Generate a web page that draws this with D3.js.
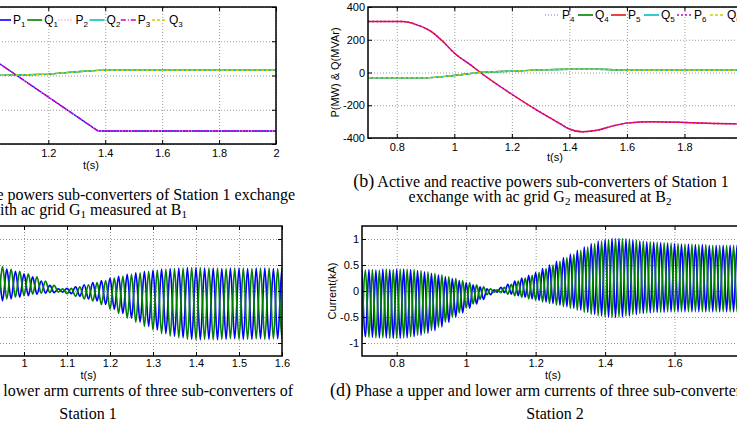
<!DOCTYPE html>
<html>
<head>
<meta charset="utf-8">
<script src="https://cdn.jsdelivr.net/npm/d3@7"></script>
<style>
body { margin: 0; background: #fff; }
svg { display: block; }
.tick text { font-family: "Liberation Sans", Arial, sans-serif; font-size: 11px; fill: #000; }
.tick line { stroke: #000; }
.grid line { stroke: #9a9a9a; stroke-dasharray: 1,2; }
.axis-title { font-family: "Liberation Sans", Arial, sans-serif; font-size: 11px; }
.legend text { font-family: "Liberation Sans", Arial, sans-serif; font-size: 12px; }
.caption { font-family: "Liberation Serif", "Times New Roman", serif; font-size: 16px; }
</style>
</head>
<body>
<div id="fig"></div>
<script>
// ---- values ----

// (a) station 1 powers (P1..P3 lie on top of each other, same for Q1..Q3)
var tPa = [0.7, 0.825, 1.375, 2.0];
var pA  = [300, 300, -324, -324];
var tQa = [0.7, 1.0, 1.1, 1.2, 1.3, 1.375, 1.4, 2.0];
var qA  = [-5, 0, 3, 8, 22, 30, 31, 31];

// (b) station 2 powers
var tPb = [0.7, 0.82, 0.87, 0.92, 0.96, 1.0, 1.055, 1.1, 1.2, 1.3, 1.37, 1.4, 1.445, 1.5, 1.545, 1.6, 1.69, 1.8, 1.9, 2.0];
var pB  = [311, 311, 291, 250, 190, 119, 48, -12, -133, -244, -315, -345, -362, -351, -329, -309, -301, -305, -311, -314];
var tQb = [0.7, 0.9, 1.0, 1.1, 1.2, 1.3, 1.4, 1.5, 1.6, 2.0];
var qB  = [-32, -32, -18, 2, 8, 16, 20, 20, 14, 14];

// (c),(d) arm currents: one max / min per 50 Hz cycle, starting at t = 0.7 s
var cycleStart = 0.7;
var period = 0.02;
var hiC = [0.90, 0.90, 0.90, 0.90, 0.90, 0.90, 0.89, 0.84, 0.78, 0.72,
           0.65, 0.58, 0.47, 0.42, 0.38, 0.33, 0.27, 0.19, 0.11, 0.04,
           0.05, 0.08, 0.12, 0.16, 0.20, 0.25, 0.28, 0.32, 0.35, 0.38,
           0.40, 0.42, 0.43, 0.44, 0.45, 0.45, 0.44, 0.44, 0.43, 0.44,
           0.44, 0.43, 0.44, 0.44, 0.43, 0.44];
var loC = [-0.40, -0.40, -0.40, -0.40, -0.40, -0.40, -0.40, -0.37, -0.34, -0.31,
           -0.28, -0.24, -0.19, -0.15, -0.12, -0.09, -0.06, -0.04, -0.03, -0.02,
           -0.05, -0.10, -0.15, -0.19, -0.26, -0.35, -0.43, -0.52, -0.60, -0.68,
           -0.75, -0.82, -0.87, -0.90, -0.93, -0.94, -0.93, -0.94, -0.93, -0.92,
           -0.93, -0.93, -0.92, -0.93, -0.92, -0.93];
var hiD = [0.40, 0.41, 0.40, 0.42, 0.41, 0.42, 0.42, 0.41, 0.39, 0.37,
           0.34, 0.31, 0.27, 0.24, 0.20, 0.16, 0.12, 0.08, 0.04, 0.02,
           0.07, 0.13, 0.19, 0.25, 0.30, 0.36, 0.43, 0.50, 0.57, 0.64,
           0.71, 0.78, 0.85, 0.91, 0.96, 0.99, 1.01, 1.01, 1.00, 0.98,
           0.96, 0.95, 0.94, 0.93, 0.92, 0.91, 0.90, 0.90, 0.89, 0.89,
           0.88, 0.88, 0.88, 0.88, 0.88, 0.88];
var loD = [-0.88, -0.89, -0.90, -0.90, -0.91, -0.91, -0.90, -0.88, -0.85, -0.81,
           -0.76, -0.69, -0.60, -0.50, -0.42, -0.33, -0.25, -0.16, -0.07, -0.02,
           -0.03, -0.06, -0.09, -0.12, -0.15, -0.18, -0.21, -0.24, -0.27, -0.30,
           -0.33, -0.37, -0.41, -0.45, -0.48, -0.50, -0.51, -0.50, -0.48, -0.45,
           -0.43, -0.42, -0.41, -0.41, -0.40, -0.40, -0.40, -0.40, -0.40, -0.40,
           -0.40, -0.40, -0.40, -0.40, -0.40, -0.40];

// tick values
var xTicksAB = [0.8, 1, 1.2, 1.4, 1.6, 1.8, 2];
var xTicksC  = [0.7, 0.8, 0.9, 1, 1.1, 1.2, 1.3, 1.4, 1.5, 1.6];
var xTicksD  = [0.8, 1, 1.2, 1.4, 1.6, 1.8];
var yTicksPQ = [-400, -200, 0, 200, 400];
var yTicksI  = [-1, -0.5, 0, 0.5, 1];

// legend entries
var legendA = [
  {name: "P", sub: "1", color: "#0000ff", dash: null},
  {name: "Q", sub: "1", color: "#008000", dash: null},
  {name: "P", sub: "2", color: "#ff8fc8", dash: "1,2"},
  {name: "Q", sub: "2", color: "#00c0c0", dash: null},
  {name: "P", sub: "3", color: "#cc00cc", dash: "5,2,1,2"},
  {name: "Q", sub: "3", color: "#cccc00", dash: "3,2"}
];
var legendB = [
  {name: "P", sub: "4", color: "#9f9fff", dash: "1,2"},
  {name: "Q", sub: "4", color: "#008000", dash: null},
  {name: "P", sub: "5", color: "#e8101c", dash: null},
  {name: "Q", sub: "5", color: "#00c0c0", dash: null},
  {name: "P", sub: "6", color: "#cc00cc", dash: "2,2"},
  {name: "Q", sub: "6", color: "#cccc00", dash: "3,2"}
];

var width = 737,
    height = 424;

var svg = d3.select("#fig").append("svg")
  .attr("width", width)
  .attr("height", height);
var defs = svg.append("defs");

var fmt = function(d) { return String(+d.toFixed(2)); };

// axes box with inward ticks on all sides, dotted grid, MATLAB style
function makeAxes(id, box, xDom, yDom, xTicks, yTicks, labelPad) {
  var x = d3.scaleLinear().domain(xDom).range([box.left, box.right]);
  var y = d3.scaleLinear().domain(yDom).range([box.bottom, box.top]);
  var w = box.right - box.left,
      h = box.bottom - box.top;
  var g = svg.append("g").attr("id", id);

  defs.append("clipPath").attr("id", id + "-clip")
    .append("rect")
    .attr("x", box.left).attr("y", box.top)
    .attr("width", w).attr("height", h);

  // grid
  g.append("g").attr("class", "grid")
    .attr("transform", "translate(0," + box.bottom + ")")
    .call(d3.axisBottom(x).tickValues(xTicks).tickSize(-h).tickFormat(""))
    .call(s => s.select(".domain").remove());
  g.append("g").attr("class", "grid")
    .attr("transform", "translate(" + box.left + ",0)")
    .call(d3.axisLeft(y).tickValues(yTicks).tickSize(-w).tickFormat(""))
    .call(s => s.select(".domain").remove());

  var plot = g.append("g").attr("clip-path", "url(#" + id + "-clip)");

  // tick marks + labels
  var axes = g.append("g");
  axes.append("g")
    .attr("transform", "translate(0," + box.bottom + ")")
    .call(d3.axisBottom(x).tickValues(xTicks).tickSize(-4).tickPadding(labelPad).tickFormat(fmt));
  axes.append("g")
    .attr("transform", "translate(0," + box.top + ")")
    .call(d3.axisTop(x).tickValues(xTicks).tickSize(-4).tickFormat(""));
  axes.append("g")
    .attr("transform", "translate(" + box.left + ",0)")
    .call(d3.axisLeft(y).tickValues(yTicks).tickSize(-4).tickPadding(3).tickFormat(fmt));
  axes.append("g")
    .attr("transform", "translate(" + box.right + ",0)")
    .call(d3.axisRight(y).tickValues(yTicks).tickSize(-4).tickFormat(""));
  axes.selectAll("path.domain").remove();
  axes.selectAll("g").attr("font-family", null).attr("font-size", null);

  g.append("rect")
    .attr("x", box.left).attr("y", box.top)
    .attr("width", w).attr("height", h)
    .attr("fill", "none")
    .attr("stroke", "#000")
    .attr("stroke-width", 1.5);

  return {x: x, y: y, g: g, plot: plot, box: box};
}

function drawSeries(ax, ts, vs, color, dash, curve) {
  var line = d3.line()
    .x(function(d, i) { return ax.x(ts[i]); })
    .y(function(d) { return ax.y(d); })
    .curve(curve || d3.curveLinear);
  ax.plot.append("path")
    .datum(vs)
    .attr("d", line)
    .attr("fill", "none")
    .attr("stroke", color)
    .attr("stroke-width", 1.4)
    .attr("stroke-dasharray", dash);
}

// upper and lower arm currents: same envelope, opposite ac part
function drawCurrents(ax, hi, lo) {
  var blue = [], green = [];
  hi.forEach(function(v, k) {
    var t = cycleStart + k * period;
    blue.push([t, hi[k]], [t + period / 2, lo[k]]);
    green.push([t, lo[k]], [t + period / 2, hi[k]]);
  });
  var line = d3.line()
    .x(function(d) { return ax.x(d[0]); })
    .y(function(d) { return ax.y(d[1]); })
    .curve(d3.curveMonotoneX);
  [[blue, "#0000ff"], [green, "#008000"]].forEach(function(s) {
    ax.plot.append("path")
      .datum(s[0])
      .attr("d", line)
      .attr("fill", "none")
      .attr("stroke", s[1])
      .attr("stroke-width", 1.7);
  });
}

function drawLegend(ax, items, x0, pitch, yc) {
  var lg = ax.g.append("g").attr("class", "legend");
  items.forEach(function(it, i) {
    var tx = x0 + i * pitch;
    lg.append("line")
      .attr("x1", tx - 17).attr("x2", tx - 2)
      .attr("y1", yc).attr("y2", yc)
      .attr("stroke", it.color)
      .attr("stroke-width", 1.6)
      .attr("stroke-dasharray", it.dash);
    var t = lg.append("text").attr("x", tx).attr("y", yc + 4);
    t.append("tspan").text(it.name);
    t.append("tspan").attr("dy", 3).attr("font-size", 8).text(it.sub);
  });
}

function axisTitleX(ax, y) {
  ax.g.append("text")
    .attr("class", "axis-title")
    .attr("text-anchor", "middle")
    .attr("x", (ax.box.left + ax.box.right) / 2)
    .attr("y", y)
    .text("t(s)");
}

function axisTitleY(ax, x, label) {
  ax.g.append("text")
    .attr("class", "axis-title")
    .attr("text-anchor", "middle")
    .attr("transform", "translate(" + x + "," + (ax.box.top + ax.box.bottom) / 2 + "), rotate(-90)")
    .text(label);
}

// caption line, parts: [text, "big" | "sub" | null]
function caption(x, y, anchor, parts) {
  var t = svg.append("text")
    .attr("class", "caption")
    .attr("x", x).attr("y", y)
    .attr("text-anchor", anchor);
  var down = false;
  parts.forEach(function(p) {
    var s = t.append("tspan").text(p[0]);
    if (p[1] == "big") s.attr("font-size", 18);
    if (p[1] == "sub") { s.attr("font-size", 11).attr("dy", 3); down = true; }
    else if (down) { s.attr("dy", -3); down = false; }
  });
}

// ---- panel (a) ----
var axA = makeAxes("panelA", {left: -94, right: 276, top: 7, bottom: 144}, [0.7, 2], [-400, 400], xTicksAB, yTicksPQ, 5);
drawSeries(axA, tPa, pA, legendA[0].color, null);
drawSeries(axA, tQa, qA, legendA[1].color, null);
drawSeries(axA, tPa, pA, legendA[2].color, legendA[2].dash);
drawSeries(axA, tQa, qA, legendA[3].color, null);
drawSeries(axA, tPa, pA, legendA[4].color, legendA[4].dash);
drawSeries(axA, tQa, qA, legendA[5].color, legendA[5].dash);
drawLegend(axA, legendA, 13, 31.2, 20);
axisTitleX(axA, 169);
axisTitleY(axA, -127, "P(MW) & Q(MVAr)");

// ---- panel (b) ----
var axB = makeAxes("panelB", {left: 368, right: 742, top: 7, bottom: 138}, [0.7, 2], [-400, 400], xTicksAB, yTicksPQ, 5);
drawSeries(axB, tPb, pB, legendB[0].color, legendB[0].dash, d3.curveMonotoneX);
drawSeries(axB, tQb, qB, legendB[1].color, null, d3.curveMonotoneX);
drawSeries(axB, tPb, pB, legendB[2].color, null, d3.curveMonotoneX);
drawSeries(axB, tQb, qB, legendB[3].color, null, d3.curveMonotoneX);
drawSeries(axB, tPb, pB, legendB[4].color, legendB[4].dash, d3.curveMonotoneX);
drawSeries(axB, tQb, qB, legendB[5].color, legendB[5].dash, d3.curveMonotoneX);
drawLegend(axB, legendB, 562, 33, 15);
axisTitleX(axB, 161);
axisTitleY(axB, 339, "P(MW) & Q(MVAr)");

// ---- panel (c) ----
var axC = makeAxes("panelC", {left: -105, right: 282, top: 226, bottom: 356}, [0.7, 1.6], [-1.25, 1.25], xTicksC, yTicksI, 3);
drawCurrents(axC, hiC, loC);
axisTitleX(axC, 379);
axisTitleY(axC, -135, "Current(kA)");

// ---- panel (d) ----
var axD = makeAxes("panelD", {left: 362, right: 744, top: 226, bottom: 356}, [0.7, 1.8], [-1.25, 1.25], xTicksD, yTicksI, 3);
drawCurrents(axD, hiD, loD);
axisTitleX(axD, 379);
axisTitleY(axD, 336, "Current(kA)");

// ---- captions ----
caption(295, 200, "end", [["(a)", "big"], [" Active and reactive powers sub-converters of Station 1 exchange", null]]);
caption(187, 215, "end", [["with ac grid G", null], ["1", "sub"], [" measured at B", null], ["1", "sub"]]);
caption(541, 187, "middle", [["(b)", "big"], [" Active and reactive powers sub-converters of Station 1", null]]);
caption(540, 202, "middle", [["exchange with ac grid G", null], ["2", "sub"], [" measured at B", null], ["2", "sub"]]);
caption(293, 396, "end", [["(c)", "big"], [" Phase a upper and lower arm currents of three sub-converters of", null]]);
caption(88, 419, "middle", [["Station 1", null]]);
caption(330, 396, "start", [["(d)", "big"], [" Phase a upper and lower arm currents of three sub-converters of", null]]);
caption(555, 419, "middle", [["Station 2", null]]);
</script>
</body>
</html>
